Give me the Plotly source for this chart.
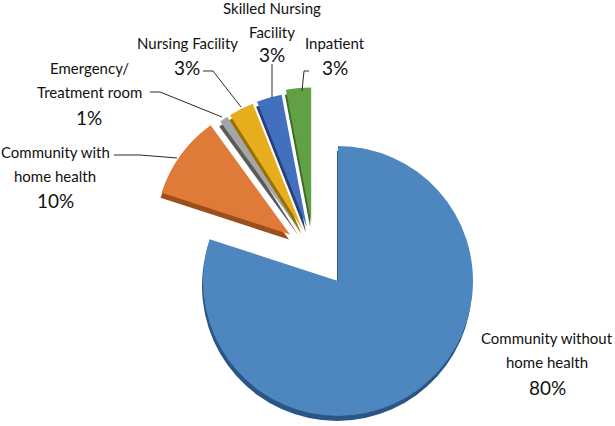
import plotly.graph_objects as go

# ---------------- data ----------------
categories = [
    "Community without home health",
    "Community with home health",
    "Emergency/ Treatment room",
    "Nursing Facility",
    "Skilled Nursing Facility",
    "Inpatient",
]
values = [80, 10, 1, 3, 3, 3]
# how each category name is broken into lines on the chart
label_lines = [
    ["Community without", "home health"],
    ["Community with", "home health"],
    ["Emergency/", "Treatment room"],
    ["Nursing Facility"],
    ["Skilled Nursing", "Facility"],
    ["Inpatient"],
]

# ---------------- styles ----------------
top_colors = ["#4e86c0", "#df7a39", "#a6a6a6", "#e8ad1d", "#4270bf", "#62a045"]
rim_colors = ["#2b5584", "#9a4f1d", "#5a5a5a", "#96700a", "#283f78", "#3f6a2a"]
CLEAR = "rgba(0,0,0,0)"

W, H = 615, 426
R = 135                      # pie radius in px
BIG_C = (338, 281)           # centre of the main pie
SMALL_C = (314, 252)         # centre used for the exploded group
small_pull = [0, 0.22, 0.19, 0.19, 0.19, 0.22]
RIM = (-1, 5)                # depth offset of the 3-D rim


def dom(cx, cy, half):
    return dict(x=[(cx - half) / W, (cx + half) / W],
                y=[1 - (cy + half) / H, 1 - (cy - half) / H])


def px(x, y):
    return x / W, 1 - y / H


big_mask = [i == 0 for i in range(len(values))]


def pie(colors, domain, pull):
    return go.Pie(
        labels=categories, values=values, sort=False, direction="clockwise",
        rotation=0, textinfo="none", hoverinfo="skip", showlegend=False,
        marker=dict(colors=colors, line=dict(width=0)), pull=pull, domain=domain,
    )


big_top = [c if m else CLEAR for c, m in zip(top_colors, big_mask)]
big_rim = [c if m else CLEAR for c, m in zip(rim_colors, big_mask)]
small_top = [CLEAR if m else c for c, m in zip(top_colors, big_mask)]
small_rim = [CLEAR if m else c for c, m in zip(rim_colors, big_mask)]

half_small = R * (1 + max(small_pull))

fig = go.Figure()
fig.add_trace(pie(big_rim, dom(BIG_C[0] + RIM[0], BIG_C[1] + RIM[1], R), 0))
fig.add_trace(pie(small_rim, dom(SMALL_C[0] + RIM[0], SMALL_C[1] + RIM[1], half_small), small_pull))
fig.add_trace(pie(big_top, dom(BIG_C[0], BIG_C[1], R), 0))
fig.add_trace(pie(small_top, dom(SMALL_C[0], SMALL_C[1], half_small), small_pull))

# ---------------- labels ----------------
FONT = "Lato"
NAME_SIZE = 15
PCT_SIZE = 19
TXT = "#111111"
# (x centre, y of first line, line step, y of percentage) in px
label_pos = [
    (547, 338, 24, 387),
    (55, 152, 24, 200),
    (89, 68, 24, 117),
    (187, 43, 24, 68),
    (272, 8, 24, 55),
    (335, 43, 24, 68),
]
annotations = []
for lines, v, (x, y0, step, yp) in zip(label_lines, values, label_pos):
    for k, line in enumerate(lines):
        ax_, ay_ = px(x, y0 + k * step)
        annotations.append(dict(x=ax_, y=ay_, xref="paper", yref="paper", text=line,
                                showarrow=False, xanchor="center", yanchor="middle",
                                font=dict(family=FONT, size=NAME_SIZE, color=TXT)))
    ax_, ay_ = px(x, yp)
    annotations.append(dict(x=ax_, y=ay_, xref="paper", yref="paper", text=f"{v}%",
                            showarrow=False, xanchor="center", yanchor="middle",
                            font=dict(family=FONT, size=PCT_SIZE, color=TXT)))

# leader lines (px polylines)
leaders = [
    [(114, 155), (140, 155), (177, 158)],
    [(150, 92), (160, 92), (222, 117)],
    [(203, 71), (213, 71), (241, 107)],
    [(272, 64), (272, 98)],
    [(309, 71), (304, 71), (302, 91)],
]
shapes = []
for pts in leaders:
    path = ""
    for i, (x, y) in enumerate(pts):
        X, Y = px(x, y)
        path += ("M" if i == 0 else " L") + f" {X:.5f},{Y:.5f}"
    shapes.append(dict(type="path", xref="paper", yref="paper", path=path,
                       line=dict(color="#2a2a2a", width=1)))

fig.update_layout(
    width=W, height=H, margin=dict(l=0, r=0, t=0, b=0),
    paper_bgcolor="white", plot_bgcolor="white",
    annotations=annotations, shapes=shapes,
)
fig.write_html(
    "out.html",
    config={"displayModeBar": False},
    post_script="document.body.style.margin='0';document.body.style.overflow='hidden';",
)
